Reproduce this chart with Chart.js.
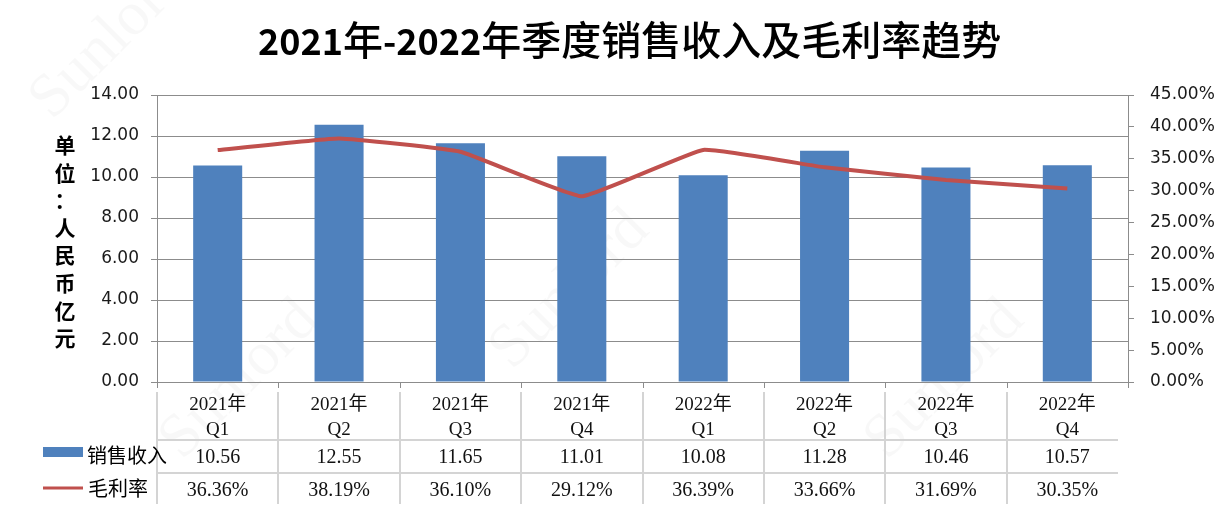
<!DOCTYPE html>
<html>
<head>
<meta charset="utf-8">
<script src="https://cdn.jsdelivr.net/npm/chart.js@4.4.1/dist/chart.umd.min.js"></script>
<style>
  html, body { margin: 0; padding: 0; background: #fff; }
  #wrap { width: 1228px; height: 516px; position: relative; }
</style>
</head>
<body>
<div id="wrap"><canvas id="salesChart" width="1228" height="516"></canvas></div>
<script>
// quarter labels (two lines each) and the two series
const years = ['2021年', '2021年', '2021年', '2021年', '2022年', '2022年', '2022年', '2022年'];
const quarters = ['Q1', 'Q2', 'Q3', 'Q4', 'Q1', 'Q2', 'Q3', 'Q4'];
const sales = [10.56, 12.55, 11.65, 11.01, 10.08, 11.28, 10.46, 10.57]; // 销售收入, 亿元
const margin = [36.36, 38.19, 36.10, 29.12, 36.39, 33.66, 31.69, 30.35]; // 毛利率, %
const leftAxis = { min: 0, max: 14, step: 2 };
const rightAxis = { min: 0, max: 45, step: 5 };

// title pieces: digits are bold, the Chinese part is regular weight
const titleParts = [['2021', true], ['年', false], ['-2022', true], ['年季度销售收入及毛利率趋势', false]];
const yTitle = ['单', '位', '：', '人', '民', '币', '亿', '元'];

const barColor = '#4F81BD';
const lineColor = '#C0504D';
const axisGray = '#8c8c8c';
const tableGray = '#d4d4d4';

// faint background watermark
const watermarkPlugin = {
    id: 'watermark',
    beforeDraw(chart) {
        const ctx = chart.ctx;
        ctx.save();
        ctx.fillStyle = 'rgba(0,0,0,0.028)';
        ctx.font = '62px "Liberation Serif", serif';
        ctx.textAlign = 'center';
        ctx.textBaseline = 'middle';
        [[110, 40], [240, 380], [570, 290], [945, 380]].forEach(p => {
            ctx.save();
            ctx.translate(p[0], p[1]);
            ctx.rotate(-Math.PI / 4);
            ctx.fillText('Sunlord', 0, 0);
            ctx.restore();
        });
        ctx.restore();
    }
};

// title, vertical unit label and the data table under the plot
const decorPlugin = {
    id: 'decor',
    afterDraw(chart) {
        const ctx = chart.ctx;
        const area = chart.chartArea;
        const xs = chart.scales.x;
        const n = sales.length;
        const cw = (area.right - area.left) / n;

        ctx.save();
        // title
        ctx.fillStyle = '#000';
        ctx.textAlign = 'left';
        ctx.textBaseline = 'alphabetic';
        let tx = 258;
        titleParts.forEach(([txt, bold]) => {
            ctx.font = bold ? 'bold 36px "Noto Sans CJK SC", sans-serif'
                            : '500 40px "Noto Sans CJK SC", sans-serif';
            ctx.fillText(txt, tx, 55);
            tx += ctx.measureText(txt).width;
        });

        // unit label, stacked characters
        ctx.textAlign = 'center';
        ctx.textBaseline = 'middle';
        ctx.font = 'bold 21px "Noto Sans CJK SC", sans-serif';
        yTitle.forEach((ch, i) => {
            ctx.fillText(ch, 65, 145 + i * 27.6);
        });

        // tick marks under the category axis
        ctx.strokeStyle = axisGray;
        ctx.lineWidth = 1;
        ctx.beginPath();
        for (let i = 0; i <= n; i++) {
            const x = Math.round(area.left + i * cw) + 0.5;
            ctx.moveTo(x, area.bottom);
            ctx.lineTo(x, area.bottom + 6);
        }
        ctx.stroke();

        // table grid
        ctx.strokeStyle = tableGray;
        ctx.lineWidth = 2;
        ctx.beginPath();
        for (let i = 0; i < n; i++) {
            const x = Math.round(area.left + i * cw);
            ctx.moveTo(x, 392);
            ctx.lineTo(x, 504);
        }
        ctx.moveTo(area.left, 440);
        ctx.lineTo(area.right - 10, 440);
        ctx.moveTo(area.left, 473);
        ctx.lineTo(area.right - 10, 473);
        ctx.stroke();

        // table text
        ctx.fillStyle = '#111';
        for (let i = 0; i < n; i++) {
            const cx = xs.getPixelForValue(i);
            ctx.font = '19px "Liberation Serif", "Noto Sans CJK SC", serif';
            ctx.fillText(years[i], cx, 405);
            ctx.fillText(quarters[i], cx, 430);
            ctx.font = '20px "Liberation Serif", serif';
            ctx.fillText(sales[i].toFixed(2), cx, 457.5);
            ctx.fillText(margin[i].toFixed(2) + '%', cx, 490.5);
        }

        // legend keys inside the table
        ctx.fillStyle = barColor;
        ctx.fillRect(43, 447, 40, 10);
        ctx.strokeStyle = lineColor;
        ctx.lineWidth = 3;
        ctx.beginPath();
        ctx.moveTo(43, 488);
        ctx.lineTo(83, 488);
        ctx.stroke();
        ctx.fillStyle = '#000';
        ctx.textAlign = 'left';
        ctx.font = '20px "Noto Sans CJK SC", sans-serif';
        ctx.fillText('销售收入', 87, 455);
        ctx.fillText('毛利率', 88, 488);
        ctx.restore();
    }
};

function initChart() {
    const ctx = document.getElementById('salesChart').getContext('2d');
    new Chart(ctx, {
        type: 'bar',
        data: {
            labels: quarters.map((q, i) => years[i] + q),
            datasets: [{
                type: 'line',
                label: '毛利率',
                data: margin,
                yAxisID: 'y1',
                borderColor: lineColor,
                borderWidth: 4,
                pointRadius: 0,
                tension: 0.1,
                order: 0
            }, {
                type: 'bar',
                label: '销售收入',
                data: sales,
                yAxisID: 'y',
                backgroundColor: barColor,
                categoryPercentage: 1,
                barPercentage: 0.404,
                order: 1
            }]
        },
        options: {
            responsive: false,
            animation: false,
            layout: { padding: { top: 95, bottom: 134, left: 0, right: 0 } },
            plugins: {
                legend: { display: false },
                title: { display: false },
                tooltip: { enabled: false }
            },
            scales: {
                x: {
                    display: false
                },
                y: {
                    position: 'left',
                    min: leftAxis.min,
                    max: leftAxis.max,
                    ticks: {
                        stepSize: leftAxis.step,
                        padding: 12,
                        color: '#1a1a1a',
                        font: { family: 'DejaVu Sans', size: 17 },
                        callback: v => v.toFixed(2)
                    },
                    grid: { color: axisGray, tickLength: 6, lineWidth: 1 },
                    border: { color: axisGray },
                    afterFit: s => { s.width = 157; }
                },
                y1: {
                    position: 'right',
                    min: rightAxis.min,
                    max: rightAxis.max,
                    ticks: {
                        stepSize: rightAxis.step,
                        padding: 16,
                        color: '#1a1a1a',
                        font: { family: 'DejaVu Sans', size: 17 },
                        callback: v => v.toFixed(2) + '%'
                    },
                    grid: { drawOnChartArea: false, color: axisGray, tickLength: 6 },
                    border: { color: axisGray },
                    afterFit: s => { s.width = 100; }
                }
            }
        },
        plugins: [watermarkPlugin, decorPlugin]
    });
}

document.addEventListener('DOMContentLoaded', initChart);
</script>
</body>
</html>
